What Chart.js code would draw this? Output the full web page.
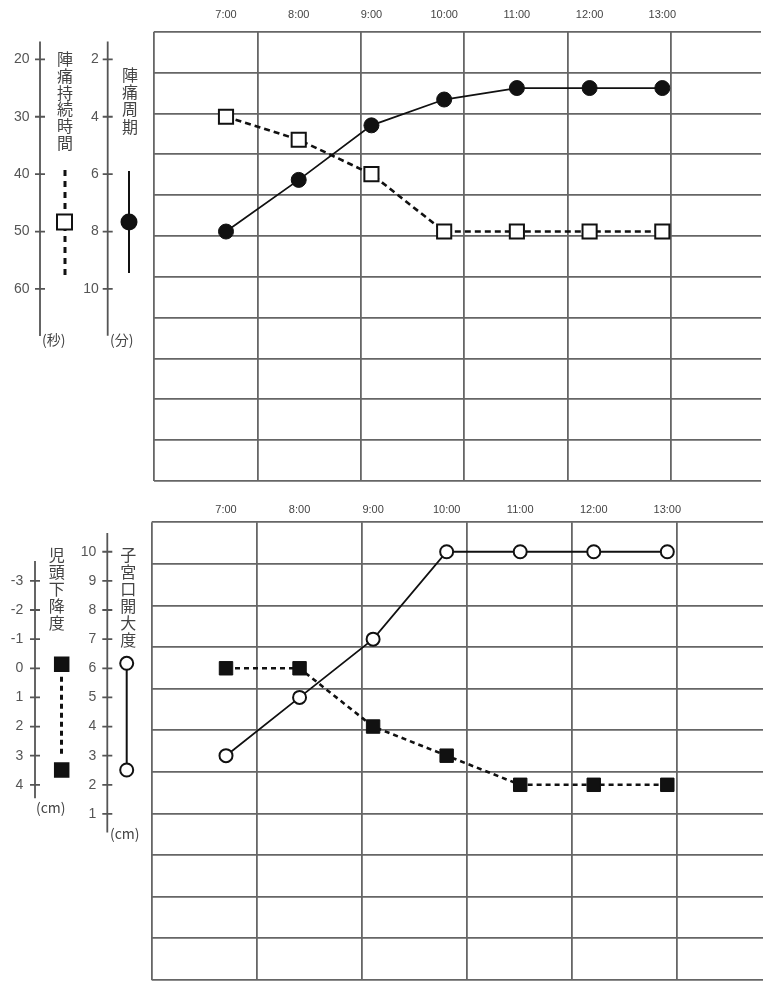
<!DOCTYPE html>
<html><head><meta charset="utf-8">
<script src="https://cdn.jsdelivr.net/npm/chart.js@4.4.1/dist/chart.umd.min.js"></script>
<style>
html,body{margin:0;padding:0;background:#fff;}
.wrap{position:relative;width:774px;height:500px;}
</style></head><body>
<div class="wrap"><canvas id="c1"></canvas></div>
<div class="wrap"><canvas id="c2"></canvas></div>
<script>
// ---- data ----
const timeLabels = ['7:00','8:00','9:00','10:00','11:00','12:00','13:00'];
const hours = [7, 8, 9, 10, 11, 12, 13];
const periodMin = [8, 6.2, 4.3, 3.4, 3, 3, 3];          // 陣痛周期 (分)
const durationSec = [30, 34, 40, 50, 50, 50, 50];       // 陣痛持続時間 (秒)
const dilationCm = [3, 5, 7, 10, 10, 10, 10];           // 子宮口開大度 (cm)
const stationCm = [0, 0, 2, 3, 4, 4, 4];                // 児頭下降度 (cm)
const durationTicks = [20, 30, 40, 50, 60];
const periodTicks = [2, 4, 6, 8, 10];
const stationTicks = [-3, -2, -1, 0, 1, 2, 3, 4];
const dilationTicks = [1, 2, 3, 4, 5, 6, 7, 8, 9, 10];
const gridCols = [0, 1, 2, 3, 4, 5];

const NUM_FONT = '"Liberation Sans", Arial, sans-serif';
const CJK_FONT = '"Noto Sans CJK JP", "Noto Sans", sans-serif';
const GRID_COLOR = '#666';
const INK = '#111';

const pts = (ys) => hours.map((h, i) => ({x: h, y: ys[i]}));
const fixedTicks = (arr) => (s) => { s.ticks = arr.map(v => ({value: v})); };

const sideDecor = {
  id: 'sideDecor',
  afterDraw(chart, args, opts) {
    const ctx = chart.ctx;
    ctx.save();
    // axis lines with cross ticks
    ctx.strokeStyle = '#555';
    ctx.lineWidth = 1.8;
    (opts.axes || []).forEach(a => {
      const s = chart.scales[a.id];
      const x = s.right;
      ctx.beginPath();
      ctx.moveTo(x, s.getPixelForValue(a.from));
      ctx.lineTo(x, s.getPixelForValue(a.to));
      s.ticks.forEach(t => {
        const y = s.getPixelForValue(t.value);
        ctx.moveTo(x - 5, y); ctx.lineTo(x + 5, y);
      });
      ctx.stroke();
    });
    // glyphs
    (opts.glyphs || []).forEach(g => {
      ctx.save();
      if (g.type === 'line') {
        ctx.strokeStyle = INK; ctx.lineWidth = g.w;
        ctx.setLineDash(g.dash || []);
        ctx.beginPath(); ctx.moveTo(g.x, g.y1); ctx.lineTo(g.x, g.y2); ctx.stroke();
      } else if (g.type === 'rect') {
        ctx.fillStyle = g.fill; ctx.strokeStyle = INK; ctx.lineWidth = 2;
        ctx.beginPath(); ctx.rect(g.x - g.size / 2, g.y - g.size / 2, g.size, g.size);
        ctx.fill(); ctx.stroke();
      } else if (g.type === 'circle') {
        ctx.fillStyle = g.fill; ctx.strokeStyle = INK; ctx.lineWidth = 2;
        ctx.beginPath(); ctx.arc(g.x, g.y, g.r, 0, Math.PI * 2);
        ctx.fill(); ctx.stroke();
      }
      ctx.restore();
    });
    // vertical titles
    ctx.fillStyle = '#444';
    ctx.textAlign = 'center';
    ctx.textBaseline = 'middle';
    ctx.font = '16px ' + CJK_FONT;
    (opts.titles || []).forEach(t => {
      [...t.text].forEach((ch, i) => ctx.fillText(ch, t.x, t.y + i * t.step));
    });
    // units
    ctx.textAlign = 'left';
    ctx.font = '14px ' + CJK_FONT;
    (opts.units || []).forEach(u => ctx.fillText(u.text, u.x, u.y));
    ctx.restore();
  }
};

function timeAxis(min, max, h, pad) {
  return {
    type: 'linear', position: 'top', min, max,
    afterBuildTicks: fixedTicks(hours),
    ticks: {
      callback: (v) => timeLabels[hours.indexOf(v)],
      font: {size: 11, family: NUM_FONT}, color: '#444', padding: pad,
      maxRotation: 0, autoSkip: false
    },
    grid: {display: false, drawTicks: false}, border: {display: false},
    afterFit: (s) => { s.height = h; }
  };
}
function gridX(max) {
  return {
    type: 'linear', position: 'bottom', min: 0, max,
    afterBuildTicks: fixedTicks(gridCols),
    ticks: {display: false},
    grid: {color: GRID_COLOR, lineWidth: 1.8, drawTicks: false},
    border: {display: false},
    afterFit: (s) => { s.height = 0; }
  };
}
function gridY() {
  return {
    type: 'linear', position: 'right', min: 0, max: 11,
    ticks: {display: false, stepSize: 1},
    grid: {color: GRID_COLOR, lineWidth: 1.8, drawTicks: false},
    border: {display: false},
    afterFit: (s) => { s.width = 0; }
  };
}
function sideAxis(weight, min, max, reverse, tickArr, pad, width) {
  return {
    type: 'linear', position: 'left', weight, min, max, reverse,
    afterBuildTicks: fixedTicks(tickArr),
    ticks: {font: {size: 14, family: NUM_FONT}, color: '#555', padding: pad},
    grid: {display: false, drawTicks: false}, border: {display: false},
    afterFit: (s) => { s.width = width; }
  };
}
function spacer(width) {
  return {
    type: 'linear', position: 'left', weight: 1,
    ticks: {display: false}, grid: {display: false, drawTicks: false}, border: {display: false},
    afterFit: (s) => { s.width = width; }
  };
}

const common = {
  responsive: true, maintainAspectRatio: false, animation: false,
  plugins: {legend: {display: false}, tooltip: {enabled: false}}
};

// ---- chart 1: 陣痛 ----
new Chart(document.getElementById('c1'), {
  type: 'line',
  data: {
    datasets: [
      {
        label: '陣痛持続時間', data: pts(durationSec), xAxisID: 'x', yAxisID: 'ySec',
        borderColor: INK, borderWidth: 2.6, borderDash: [6, 4], tension: 0,
        pointStyle: 'rect', pointRadius: 10, pointBackgroundColor: '#fff',
        pointBorderColor: INK, pointBorderWidth: 2
      },
      {
        label: '陣痛周期', data: pts(periodMin), xAxisID: 'x', yAxisID: 'yMin',
        borderColor: INK, borderWidth: 1.8, tension: 0,
        pointStyle: 'circle', pointRadius: 7.5, pointBackgroundColor: INK,
        pointBorderColor: INK, pointBorderWidth: 1
      }
    ]
  },
  options: Object.assign({}, common, {
    layout: {autoPadding: false, padding: {top: 0, left: 0, right: 13, bottom: 8.3}},
    scales: {
      x: timeAxis(6.0099, 14.357, 31.7, 10),
      xGrid: gridX(5.87),
      yGrid: gridY(),
      ySec: sideAxis(3, 15.183, 93.48, true, durationTicks, 10.5, 40),
      yMin: sideAxis(2, 1.0366, 16.696, true, periodTicks, 9, 67.7),
      ySpacer: spacer(46.3)
    },
    plugins: Object.assign({}, common.plugins, {
      sideDecor: {
        axes: [{id: 'ySec', from: 16.9, to: 68.2}, {id: 'yMin', from: 1.38, to: 11.63}],
        glyphs: [
          {type: 'line', x: 65, y1: 170, y2: 275, dash: [6, 5], w: 3},
          {type: 'rect', x: 64.5, y: 222, size: 15, fill: '#fff'},
          {type: 'line', x: 129, y1: 171, y2: 273, w: 2},
          {type: 'circle', x: 129, y: 222, r: 7.5, fill: INK}
        ],
        titles: [
          {text: '陣痛持続時間', x: 65, y: 59, step: 16.8},
          {text: '陣痛周期', x: 130, y: 75.2, step: 17.1}
        ],
        units: [{text: '(秒)', x: 42, y: 340}, {text: '(分)', x: 110, y: 340}]
      }
    })
  }),
  plugins: [sideDecor]
});

// ---- chart 2: 分娩進行 ----
new Chart(document.getElementById('c2'), {
  type: 'line',
  data: {
    datasets: [
      {
        label: '児頭下降度', data: pts(stationCm), xAxisID: 'x', yAxisID: 'ySt',
        borderColor: INK, borderWidth: 2.6, borderDash: [5, 4], tension: 0,
        pointStyle: 'rect', pointRadius: 9.5, pointBackgroundColor: INK,
        pointBorderColor: INK, pointBorderWidth: 1
      },
      {
        label: '子宮口開大度', data: pts(dilationCm), xAxisID: 'x', yAxisID: 'yDil',
        borderColor: INK, borderWidth: 1.8, tension: 0,
        pointStyle: 'circle', pointRadius: 6.5, pointBackgroundColor: '#fff',
        pointBorderColor: INK, pointBorderWidth: 2
      }
    ]
  },
  options: Object.assign({}, common, {
    layout: {autoPadding: false, padding: {top: 0, left: 0, right: 11, bottom: 11.7}},
    scales: {
      x: timeAxis(5.9898, 14.301, 22.3, 5.7),
      xGrid: gridX(5.822),
      yGrid: gridY(),
      ySt: sideAxis(3, -5.011, 10.697, true, stationTicks, 11.7, 35),
      yDil: sideAxis(2, -4.697, 11.011, false, dilationTicks, 11, 72.3),
      ySpacer: spacer(44.4)
    },
    plugins: Object.assign({}, common.plugins, {
      sideDecor: {
        axes: [{id: 'ySt', from: -3.683, to: 4.461}, {id: 'yDil', from: 10.64, to: 0.36}],
        glyphs: [
          {type: 'line', x: 61.5, y1: 176.7, y2: 256.7, dash: [5, 4], w: 3},
          {type: 'rect', x: 61.7, y: 164.3, size: 13.5, fill: INK},
          {type: 'rect', x: 61.7, y: 270, size: 13.5, fill: INK},
          {type: 'line', x: 126.7, y1: 170, y2: 263, w: 2},
          {type: 'circle', x: 126.7, y: 163.3, r: 6.5, fill: '#fff'},
          {type: 'circle', x: 126.7, y: 270, r: 6.5, fill: '#fff'}
        ],
        titles: [
          {text: '児頭下降度', x: 56.7, y: 55.2, step: 17},
          {text: '子宮口開大度', x: 128.3, y: 55.2, step: 16.9}
        ],
        units: [{text: '(cm)', x: 36, y: 308}, {text: '(cm)', x: 110, y: 333.3}]
      }
    })
  }),
  plugins: [sideDecor]
});
</script>
</body></html>
